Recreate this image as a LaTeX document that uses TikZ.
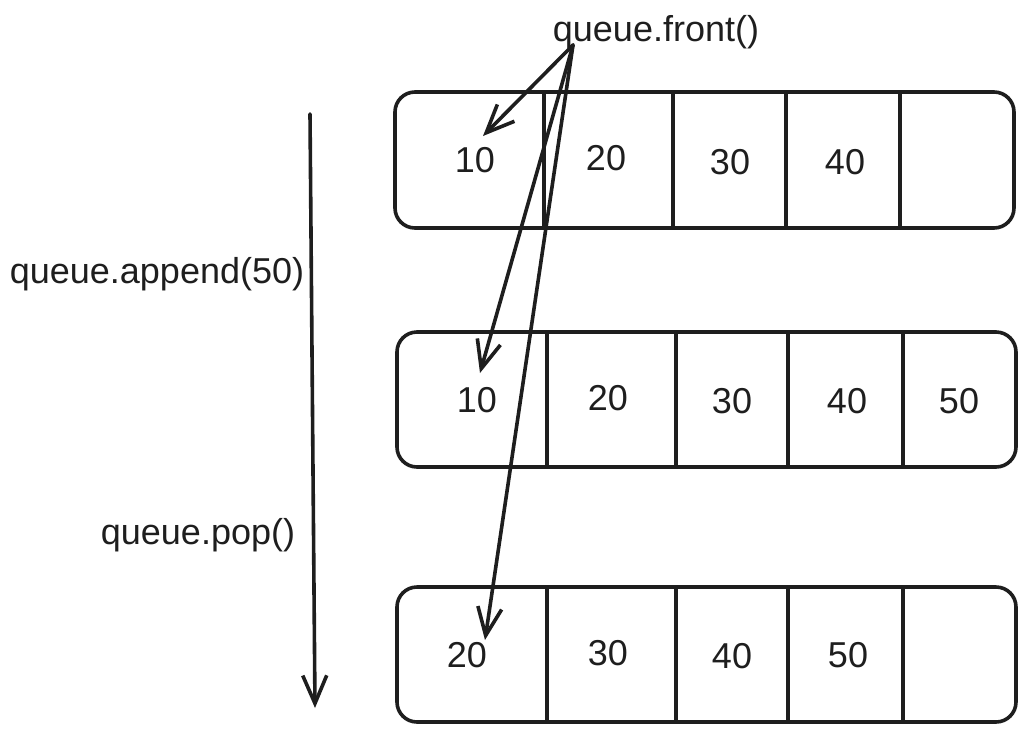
\documentclass[tikz,border=0pt]{standalone}
\usepackage{fontspec}
\setmainfont{Liberation Sans}
\usetikzlibrary{arrows.meta}
\definecolor{ink}{HTML}{1E1E1E}

\begin{document}
\begin{tikzpicture}[x=1pt,y=-1pt,line width=3.6pt,line cap=round,line join=round,draw=ink,text=ink]
\tikzstyle{num} = [inner sep=0pt,font=\fontsize{36}{43}\selectfont]
\tikzstyle{lbl} = [inner sep=0pt,font=\fontsize{36}{43}\selectfont]
\tikzstyle{cell} = [rounded corners=20pt]
\tikzstyle{arr} = [-{Straight Barb[length=28pt,width=24pt]}]

\useasboundingbox (0,0) rectangle (1026,732);

\node[lbl](front) at (656,32)		{queue.front()};
\node[lbl](append) at (157,274)		{queue.append(50)};
\node[lbl](pop) at (198,535)		{queue.pop()};

\draw[cell] (395,92) rectangle (1014,228);
\draw (544,92) -- (544,228);
\draw (673,92) -- (673,228);
\draw (786,92) -- (786,228);
\draw (900,92) -- (900,228);
\node[num](n11) at (475,160)	{10};
\node[num](n12) at (606,158)	{20};
\node[num](n13) at (730,162)	{30};
\node[num](n14) at (845,162)	{40};

\draw[cell] (397,332) rectangle (1016,467);
\draw (547,332) -- (547,467);
\draw (676,332) -- (676,467);
\draw (788,332) -- (788,467);
\draw (903,332) -- (903,467);
\node[num](n21) at (477,400)	{10};
\node[num](n22) at (608,398)	{20};
\node[num](n23) at (732,401)	{30};
\node[num](n24) at (847,401)	{40};
\node[num](n25) at (959,401)	{50};

\draw[cell] (397,587) rectangle (1016,722);
\draw (547,587) -- (547,722);
\draw (676,587) -- (676,722);
\draw (788,587) -- (788,722);
\draw (903,587) -- (903,722);
\node[num](n31) at (467,655)	{20};
\node[num](n32) at (608,653)	{30};
\node[num](n33) at (732,656)	{40};
\node[num](n34) at (848,655)	{50};

\coordinate (src) at (573,45);
\coordinate (t1) at (483,136);
\coordinate (t2) at (480,373);
\coordinate (t3) at (485,640);
\draw[arr] (src) -- (t1);
\draw[arr] (src) -- (t2);
\draw[arr] (src) -- (t3);

\coordinate (start) at (310,114);
\coordinate (end) at (315,708);
\draw[arr] (start) -- (end);

\end{tikzpicture}
\end{document}
